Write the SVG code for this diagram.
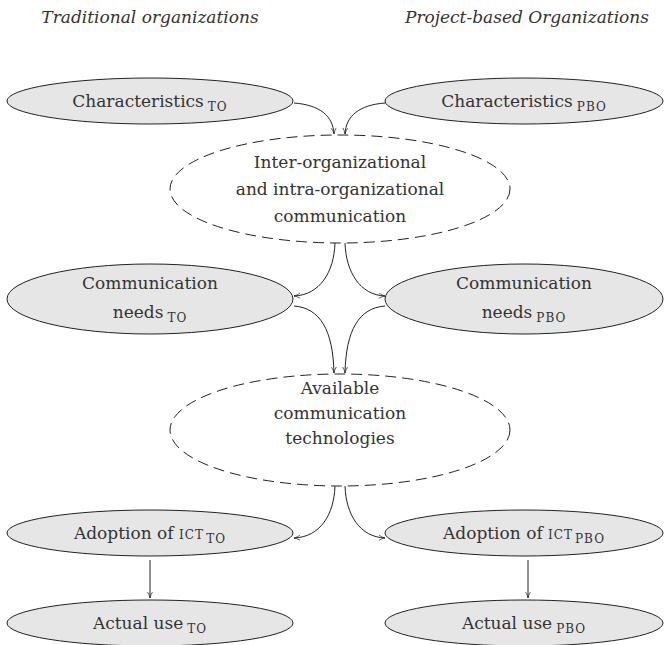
<svg xmlns="http://www.w3.org/2000/svg" width="665" height="645" viewBox="0 0 665 645">
<defs>
<marker id="arr" viewBox="0 0 10 10" refX="9.5" refY="5" markerWidth="7" markerHeight="7" markerUnits="userSpaceOnUse" orient="auto">
<path d="M1,1.5 Q5,4.2 9.5,5 Q5,5.8 1,8.5" fill="none" stroke="#222" stroke-width="1"/>
</marker>
</defs>
<style>
.n{fill:#e6e6e6;stroke:#222;stroke-width:1}
.d{fill:none;stroke:#222;stroke-width:1;stroke-dasharray:11 6}
text{font-family:"DejaVu Serif","Liberation Serif",serif;font-size:17px;fill:#333;text-anchor:middle}
.t{font-style:italic;font-size:17px}
.s{font-size:12px;letter-spacing:1px}
.c{fill:none;stroke:#222;stroke-width:1;marker-end:url(#arr)}
</style>
<rect width="665" height="645" fill="#fff"/>
<text class="t" x="150" y="23">Traditional organizations</text>
<text class="t" x="527" y="23">Project-based Organizations</text>

<g id="char-to">
<ellipse class="n" cx="150" cy="101" rx="143" ry="23"/>
<text x="150" y="107">Characteristics<tspan class="s" dx="4" dy="4">TO</tspan></text>
</g>
<g id="char-pbo">
<ellipse class="n" cx="524" cy="101" rx="139" ry="23"/>
<text x="524" y="107">Characteristics<tspan class="s" dx="4" dy="4">PBO</tspan></text>
</g>
<g id="inter">
<ellipse class="d" cx="340" cy="189" rx="170" ry="54"/>
<text x="340" y="168">Inter-organizational</text>
<text x="340" y="195">and intra-organizational</text>
<text x="340" y="222">communication</text>
</g>
<g id="needs-to">
<ellipse class="n" cx="150" cy="299" rx="143" ry="35"/>
<text x="150" y="289">Communication</text>
<text x="150" y="318">needs<tspan class="s" dx="4" dy="4">TO</tspan></text>
</g>
<g id="needs-pbo">
<ellipse class="n" cx="524" cy="299" rx="139" ry="35"/>
<text x="524" y="289">Communication</text>
<text x="524" y="318">needs<tspan class="s" dx="4" dy="4">PBO</tspan></text>
</g>
<g id="avail">
<ellipse class="d" cx="340" cy="430" rx="170" ry="56"/>
<text x="340" y="394">Available</text>
<text x="340" y="419">communication</text>
<text x="340" y="444">technologies</text>
</g>
<g id="adopt-to">
<ellipse class="n" cx="150" cy="533" rx="143" ry="23"/>
<text x="150" y="539">Adoption of <tspan class="s">ICT</tspan><tspan class="s" dx="2" dy="4">TO</tspan></text>
</g>
<g id="adopt-pbo">
<ellipse class="n" cx="524" cy="533" rx="139" ry="23"/>
<text x="524" y="539">Adoption of <tspan class="s">ICT</tspan><tspan class="s" dx="2" dy="4">PBO</tspan></text>
</g>
<g id="use-to">
<ellipse class="n" cx="150" cy="623" rx="143" ry="23"/>
<text x="150" y="629">Actual use<tspan class="s" dx="4" dy="4">TO</tspan></text>
</g>
<g id="use-pbo">
<ellipse class="n" cx="524" cy="623" rx="139" ry="23"/>
<text x="524" y="629">Actual use<tspan class="s" dx="4" dy="4">PBO</tspan></text>
</g>

<g id="connectors">
<path class="c" d="M294,103 C320,105 333,116 334,134"/>
<path class="c" d="M385,103 C359,105 346,116 345,134"/>
<path class="c" d="M335,243 C334,272 320,295 294,296"/>
<path class="c" d="M345,243 C346,272 360,295 385,296"/>
<path class="c" d="M294,306 C320,308 333,330 334,373"/>
<path class="c" d="M385,306 C359,308 346,330 345,373"/>
<path class="c" d="M335,486 C334,515 320,537 294,538"/>
<path class="c" d="M345,486 C346,515 360,537 385,538"/>
<path class="c" d="M150,560 L150,598"/>
<path class="c" d="M528,560 L528,598"/>
</g>
</svg>
